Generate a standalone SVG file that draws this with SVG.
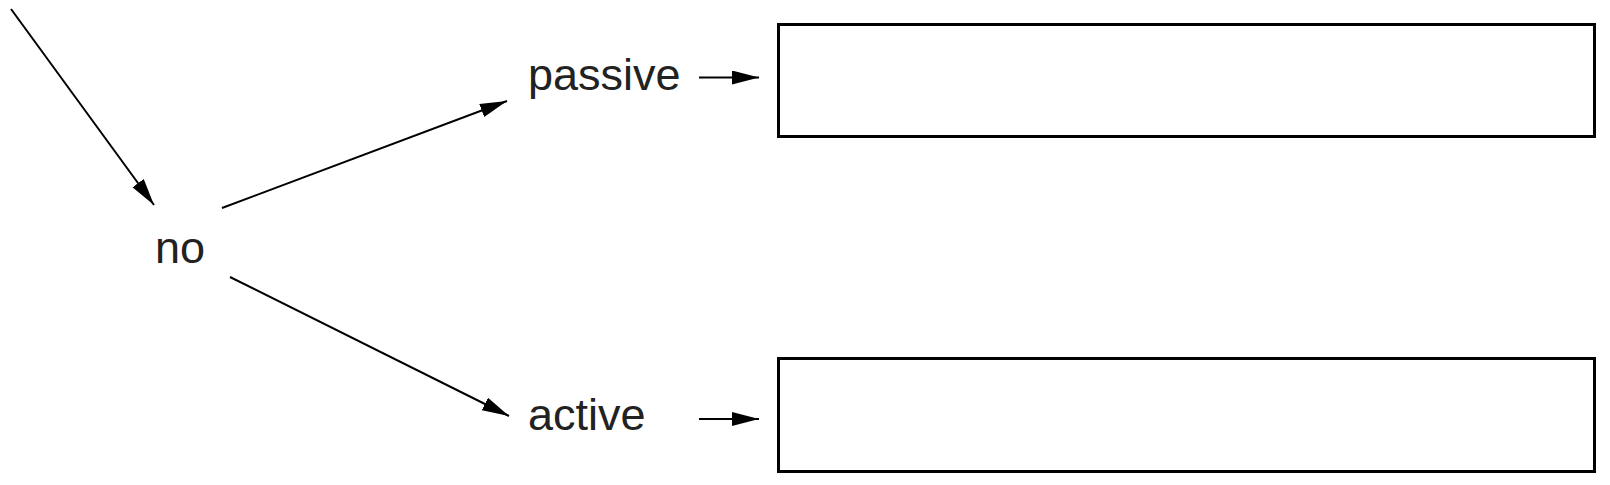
<svg xmlns="http://www.w3.org/2000/svg" width="1610" height="485" viewBox="0 0 1610 485">
<style>
.lbl{font-family:"Liberation Sans",Arial,sans-serif;font-size:45px;fill:#222}
.edge{stroke:#000;stroke-width:2;fill:none;marker-end:url(#ah)}
.box{fill:#fff;stroke:#000;stroke-width:3}
</style>
<defs>
<marker id="ah" markerUnits="userSpaceOnUse" markerWidth="28" markerHeight="15" refX="27" refY="7" orient="auto">
<path d="M0,0 L27,7 L0,14 z" fill="#000"/>
</marker>
</defs>
<rect width="1610" height="485" fill="#fff"/>
<g id="connectors">
<line class="edge" x1="11" y1="9" x2="154" y2="205"/>
<line class="edge" x1="222" y1="208" x2="507" y2="101"/>
<line class="edge" x1="230" y1="277" x2="509" y2="416"/>
<line class="edge" x1="699" y1="77.5" x2="759" y2="77.5"/>
<line class="edge" x1="699" y1="419" x2="759" y2="419"/>
</g>
<g id="node-no"><text class="lbl" x="155" y="263">no</text></g>
<g id="node-passive"><text class="lbl" x="528" y="90">passive</text></g>
<g id="node-active"><text class="lbl" x="528" y="430">active</text></g>
<g id="node-box-top"><rect class="box" x="778.5" y="24.5" width="816" height="112"/></g>
<g id="node-box-bottom"><rect class="box" x="778.5" y="358.5" width="816" height="113"/></g>
</svg>
